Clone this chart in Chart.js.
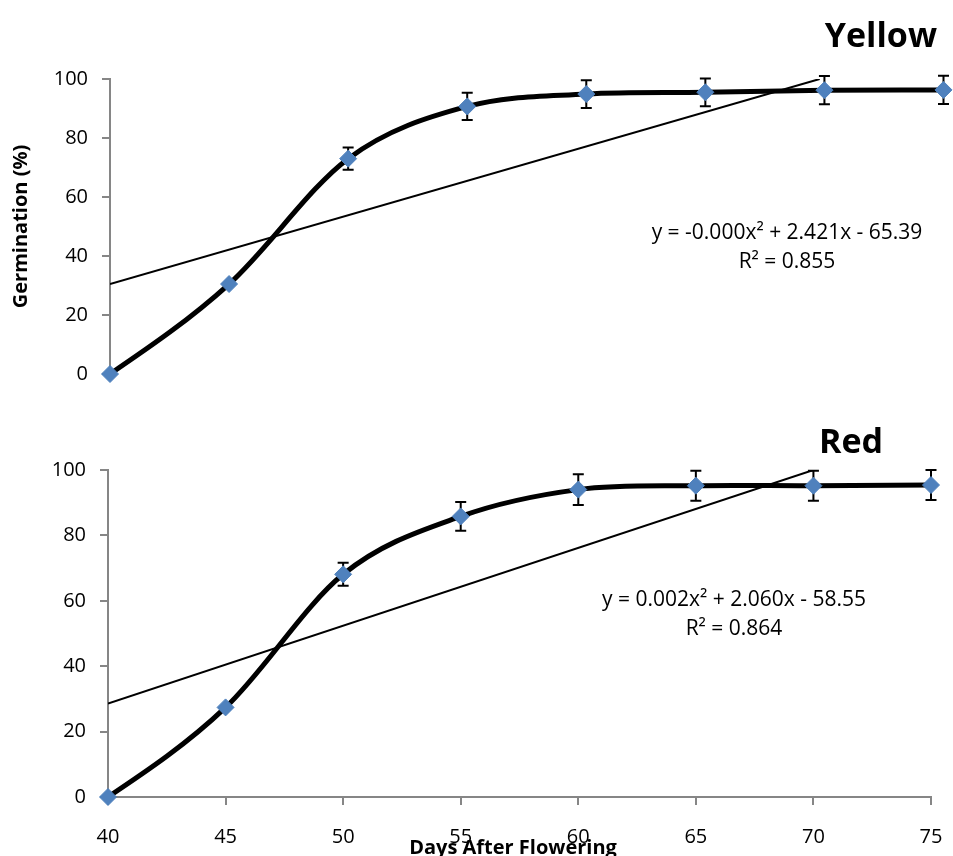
<!DOCTYPE html>
<html>
<head>
<meta charset="utf-8">
<script src="https://cdn.jsdelivr.net/npm/chart.js@4"></script>
<style>
  html, body { margin: 0; padding: 0; background: #ffffff; }
  #wrap { position: relative; width: 953px; height: 856px; overflow: hidden; background: #fff; }
  .panel { position: absolute; left: 0; width: 953px; }
  #topPanel { top: 0; height: 400px; }
  #bottomPanel { top: 400px; height: 456px; }
</style>
</head>
<body>
<div id="wrap">
  <div class="panel" id="topPanel"><canvas id="yellowChart" width="953" height="400"></canvas></div>
  <div class="panel" id="bottomPanel"><canvas id="redChart" width="953" height="456"></canvas></div>
</div>
<script>
// ---- data ----
const days = [40, 45, 50, 55, 60, 65, 70, 75];
const yellowGermination = [0, 30.5, 73.0, 90.7, 94.9, 95.5, 96.2, 96.3];
const yellowError = [0, 0, 3.8, 4.6, 4.7, 4.7, 4.8, 4.8];
const redGermination = [0, 27.4, 68.1, 85.8, 94.0, 95.2, 95.2, 95.4];
const redError = [0, 0, 3.5, 4.4, 4.7, 4.6, 4.6, 4.6];
const yellowTrendDays = [40, 69.8];
const yellowTrendValues = [30.5, 100];
const redTrendDays = [40, 70];
const redTrendValues = [28.6, 100];
const xTicks = [40, 45, 50, 55, 60, 65, 70, 75];
const yTicks = [0, 20, 40, 60, 80, 100];
const yellowEquation = ['y = -0.000x\u00B2 + 2.421x - 65.39', 'R\u00B2 = 0.855'];
const redEquation = ['y = 0.002x\u00B2 + 2.060x - 58.55', 'R\u00B2 = 0.864'];

Chart.defaults.font.family = "'Open Sans', 'Liberation Sans', sans-serif";
Chart.defaults.color = '#000000';

const FONT = "'Open Sans', 'Liberation Sans', sans-serif";
const AXIS_GREY = '#868686';
const MARKER_BLUE = '#4F81BD';

function pts(xs, ys) { return xs.map((x, i) => ({ x: x, y: ys[i] })); }

// Smooth the curve like a spreadsheet "smoothed line" (Catmull-Rom with natural ends)
const smoothPlugin = {
  id: 'smoothCurve',
  beforeDatasetsDraw(chart) {
    chart.data.datasets.forEach((ds, di) => {
      if (!ds.smoothCurve) return;
      const meta = chart.getDatasetMeta(di);
      const line = meta.dataset;
      line.updateControlPoints(chart.chartArea, 'x');
      const p = meta.data;
      const n = p.length;
      if (n < 3) return;
      const T = [];
      for (let i = 1; i < n - 1; i++) {
        T[i] = { x: (p[i + 1].x - p[i - 1].x) / 2, y: (p[i + 1].y - p[i - 1].y) / 2 };
      }
      T[0] = { x: (3 * (p[1].x - p[0].x) - T[1].x) / 2, y: (3 * (p[1].y - p[0].y) - T[1].y) / 2 };
      T[n - 1] = { x: (3 * (p[n - 1].x - p[n - 2].x) - T[n - 2].x) / 2, y: (3 * (p[n - 1].y - p[n - 2].y) - T[n - 2].y) / 2 };
      for (let i = 0; i < n; i++) {
        p[i].cp1x = p[i].x - T[i].x / 3;
        p[i].cp1y = p[i].y - T[i].y / 3;
        p[i].cp2x = p[i].x + T[i].x / 3;
        p[i].cp2y = p[i].y + T[i].y / 3;
      }
    });
  }
};

const errorBarPlugin = {
  id: 'errorBars',
  beforeDatasetsDraw(chart, args, opts) {
    const xs = chart.scales.x, ys = chart.scales.y;
    const ctx = chart.ctx;
    ctx.save();
    ctx.strokeStyle = '#000';
    ctx.lineWidth = 2;
    opts.values.forEach((v, i) => {
      const e = opts.errors[i];
      if (!e) return;
      const px = xs.getPixelForValue(opts.xs[i]);
      const top = ys.getPixelForValue(v + e);
      const bot = ys.getPixelForValue(v - e);
      ctx.beginPath();
      ctx.moveTo(px, top); ctx.lineTo(px, bot);
      ctx.moveTo(px - 5.5, top); ctx.lineTo(px + 5.5, top);
      ctx.moveTo(px - 5.5, bot); ctx.lineTo(px + 5.5, bot);
      ctx.stroke();
    });
    ctx.restore();
  }
};

const textPlugin = {
  id: 'panelText',
  afterDraw(chart, args, opts) {
    const ctx = chart.ctx;
    ctx.save();
    ctx.fillStyle = '#000';
    (opts.items || []).forEach(it => {
      ctx.font = it.font;
      ctx.textAlign = it.align;
      ctx.textBaseline = it.baseline;
      ctx.fillText(it.text, it.x, it.y);
    });
    ctx.restore();
  }
};

function makeChart(canvasId, cfg) {
  return new Chart(document.getElementById(canvasId), {
    type: 'line',
    data: {
      datasets: [
        {
          label: 'germination',
          data: pts(days, cfg.values),
          smoothCurve: true,
          borderColor: '#000',
          borderWidth: 5,
          tension: 0.4,
          pointStyle: 'rectRot',
          pointRadius: 8.5,
          pointBackgroundColor: MARKER_BLUE,
          pointBorderColor: MARKER_BLUE,
          pointBorderWidth: 1,
          fill: false,
          clip: false,
          order: 0
        },
        {
          label: 'trend',
          data: pts(cfg.trendDays, cfg.trendValues),
          borderColor: '#000',
          borderWidth: 2,
          pointRadius: 0,
          tension: 0,
          fill: false,
          order: 1
        }
      ]
    },
    options: {
      responsive: false,
      animation: false,
      events: [],
      layout: { padding: cfg.padding },
      plugins: {
        legend: { display: false },
        tooltip: { enabled: false },
        errorBars: { xs: days, values: cfg.values, errors: cfg.errors },
        panelText: { items: cfg.texts }
      },
      scales: {
        x: {
          type: 'linear',
          min: 40, max: 75,
          display: cfg.showX,
          afterBuildTicks: s => { s.ticks = xTicks.map(v => ({ value: v })); },
          afterFit: s => {
            if (cfg.xHeight) s.height = cfg.xHeight;
            s.paddingLeft = 0;
            s.paddingRight = 0;
          },
          grid: { drawOnChartArea: false, color: AXIS_GREY, lineWidth: 2, tickLength: 8 },
          border: { color: AXIS_GREY, width: 2 },
          ticks: { font: { size: 20 }, padding: 20, maxRotation: 0 }
        },
        y: {
          min: 0, max: 100,
          afterBuildTicks: s => { s.ticks = yTicks.map(v => ({ value: v })); },
          afterFit: s => { s.width = cfg.yWidth; },
          grid: { drawOnChartArea: false, color: AXIS_GREY, lineWidth: 2, tickLength: 8 },
          border: { color: AXIS_GREY, width: 2 },
          ticks: { font: { size: 20 }, padding: 14 },
          title: cfg.yTitle
        }
      }
    },
    plugins: [smoothPlugin, errorBarPlugin, textPlugin]
  });
}

makeChart('yellowChart', {
  values: yellowGermination,
  errors: yellowError,
  trendDays: yellowTrendDays,
  trendValues: yellowTrendValues,
  showX: false,
  yWidth: 110,
  padding: { left: 0, right: 8, top: 79, bottom: 24 },
  yTitle: { display: true, text: 'Germination (%)', font: { size: 20, weight: 'bold' }, padding: { top: 9, bottom: 0 } },
  texts: [
    { text: 'Yellow', x: 937, y: 47, align: 'right', baseline: 'alphabetic', font: "bold 34px " + FONT },
    { text: yellowEquation[0], x: 787, y: 233, align: 'center', baseline: 'middle', font: "21px " + FONT },
    { text: yellowEquation[1], x: 787, y: 262, align: 'center', baseline: 'middle', font: "21px " + FONT }
  ]
});

makeChart('redChart', {
  values: redGermination,
  errors: redError,
  trendDays: redTrendDays,
  trendValues: redTrendValues,
  showX: true,
  xHeight: 59,
  yWidth: 108,
  padding: { left: 0, right: 22, top: 70, bottom: 0 },
  yTitle: { display: false },
  texts: [
    { text: 'Red', x: 883, y: 53, align: 'right', baseline: 'alphabetic', font: "bold 34px " + FONT },
    { text: redEquation[0], x: 734, y: 200, align: 'center', baseline: 'middle', font: "21px " + FONT },
    { text: redEquation[1], x: 734, y: 229, align: 'center', baseline: 'middle', font: "21px " + FONT },
    { text: 'Days After Flowering', x: 513, y: 454, align: 'center', baseline: 'alphabetic', font: "bold 20px " + FONT }
  ]
});
</script>
</body>
</html>
